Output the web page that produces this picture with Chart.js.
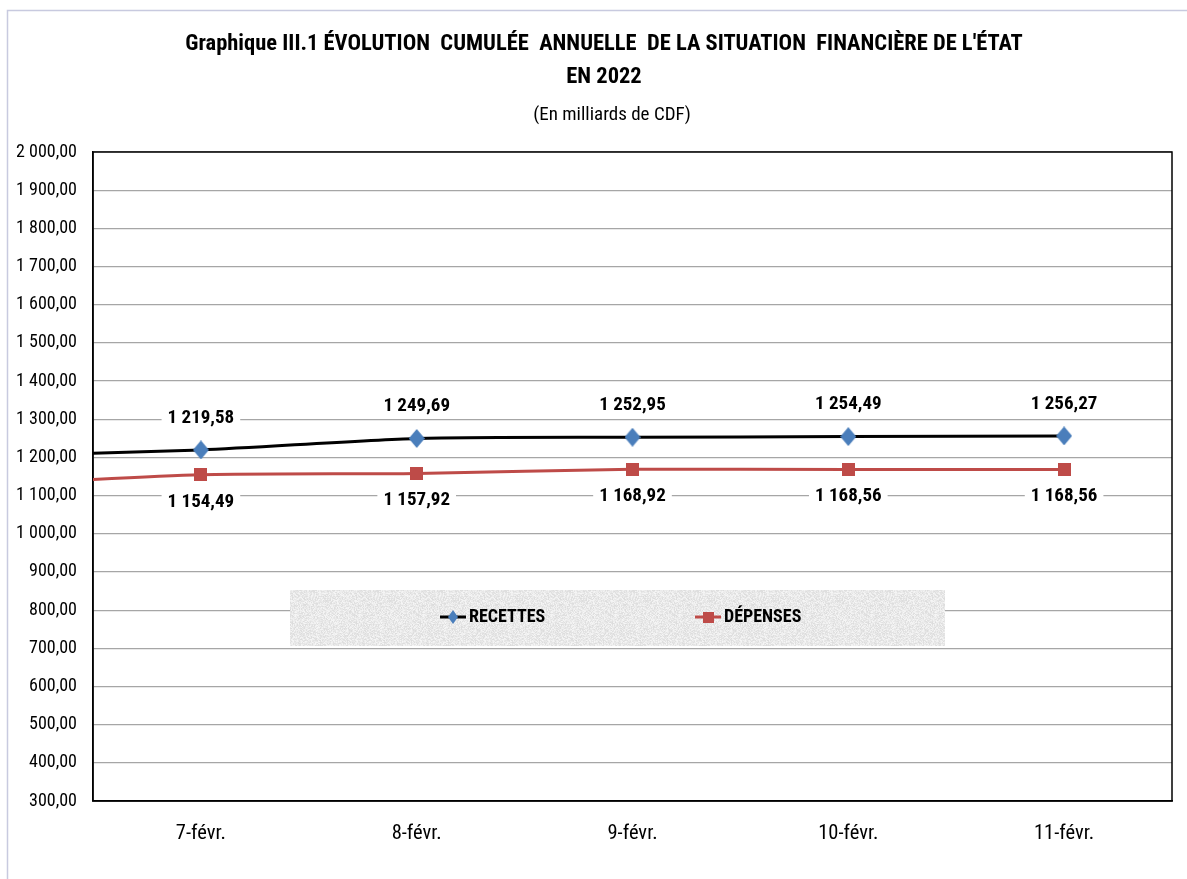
<!DOCTYPE html>
<html>
<head>
<meta charset="utf-8">
<script src="https://cdn.jsdelivr.net/npm/chart.js@4/dist/chart.umd.min.js"></script>
<style>
  html, body { margin: 0; padding: 0; background: #ffffff; }
  #wrap { width: 1187px; height: 879px; position: relative; }
  canvas { display: block; }
</style>
</head>
<body>
<div id="wrap"><canvas id="c" width="1187" height="879"></canvas></div>
<script>
// ---- Data ----
// The first category lies just outside the plot (only its connecting line segment is visible at the left edge).
const categories = ['6-févr.', '7-févr.', '8-févr.', '9-févr.', '10-févr.', '11-févr.'];
const recettes   = [1203.6, 1219.58, 1249.69, 1252.95, 1254.49, 1256.27];
const depenses   = [1127.1, 1154.49, 1157.92, 1168.92, 1168.56, 1168.56];
const seriesNames = ['RECETTES', 'DÉPENSES'];
const yTicksMin = 300, yTicksMax = 2000, yStep = 100;
const titleLines = ["Graphique III.1 ÉVOLUTION  CUMULÉE  ANNUELLE  DE LA SITUATION  FINANCIÈRE DE L'ÉTAT", 'EN 2022'];
const subtitleText = '(En milliards de CDF)';
const firstVisible = 1;

const FONT = "'Liberation Sans Narrow', 'Arial Narrow', 'Roboto Condensed', 'Liberation Sans', sans-serif";

function fmt(v) {
  const s = v.toFixed(2);
  const parts = s.split('.');
  const i = parts[0].replace(/\B(?=(\d{3})+(?!\d))/g, ' ');
  return i + ',' + parts[1];
}

// marker images
function makeDiamond(w, h, color) {
  const c = document.createElement('canvas');
  c.width = w; c.height = h;
  const g = c.getContext('2d');
  g.fillStyle = color;
  g.beginPath();
  g.moveTo(w / 2, 0); g.lineTo(w, h / 2); g.lineTo(w / 2, h); g.lineTo(0, h / 2);
  g.closePath(); g.fill();
  return c;
}
function makeSquare(s, color) {
  const c = document.createElement('canvas');
  c.width = s; c.height = s;
  const g = c.getContext('2d');
  g.fillStyle = color;
  g.fillRect(0, 0, s, s);
  return c;
}
const diamond = makeDiamond(16, 19, '#4a7ebb');
const square = makeSquare(13, '#be4b48');
const legendDiamond = makeDiamond(10, 14, '#4a7ebb');
const legendSquare = makeSquare(11, '#be4b48');

// texture tile for the legend box (deterministic hash, decorative only)
function makeTexture() {
  const c = document.createElement('canvas');
  c.width = 64; c.height = 64;
  const g = c.getContext('2d');
  const img = g.createImageData(64, 64);
  for (let y = 0; y < 64; y++) {
    for (let x = 0; x < 64; x++) {
      const h = Math.sin(x * 12.9898 + y * 78.233) * 43758.5453;
      const f = h - Math.floor(h);
      const v = Math.round(220 + f * 26);
      const k = (y * 64 + x) * 4;
      img.data[k] = v; img.data[k + 1] = v; img.data[k + 2] = v; img.data[k + 3] = 255;
    }
  }
  g.putImageData(img, 0, 0);
  return c;
}
const texture = makeTexture();

const toPoints = arr => arr.map((v, i) => ({ x: i, y: v }));

const framePlugin = {
  id: 'frame',
  beforeDraw(chart) {
    const ctx = chart.ctx;
    ctx.save();
    ctx.fillStyle = '#ffffff';
    ctx.fillRect(0, 0, chart.width, chart.height);
    ctx.strokeStyle = '#c8cadf';
    ctx.lineWidth = 1.5;
    ctx.beginPath();
    ctx.moveTo(7.5, chart.height);
    ctx.lineTo(7.5, 10.5);
    ctx.lineTo(chart.width, 10.5);
    ctx.stroke();
    // titles
    ctx.fillStyle = '#000000';
    ctx.textAlign = 'center';
    ctx.textBaseline = 'middle';
    ctx.font = 'bold 22.5px ' + FONT;
    ctx.fillText(titleLines[0], 604, 44);
    ctx.fillText(titleLines[1], 604, 77);
    ctx.font = '19px ' + FONT;
    ctx.fillText(subtitleText, 612, 115);
    ctx.restore();
  },
  beforeDatasetsDraw(chart) {
    const a = chart.chartArea, ctx = chart.ctx;
    ctx.save();
    // legend box (sits under the lines' layer, over the grid)
    const bx = 290, by = 590, bw = 655, bh = 56;
    ctx.fillStyle = ctx.createPattern(texture, 'repeat');
    ctx.fillRect(bx, by, bw, bh);
    const items = [
      { x: 440, color: '#000000', img: legendDiamond, text: seriesNames[0] },
      { x: 695, color: '#be4b48', img: legendSquare, text: seriesNames[1] }
    ];
    const cy = 617;
    items.forEach(it => {
      ctx.strokeStyle = it.color;
      ctx.lineWidth = 3;
      ctx.beginPath();
      ctx.moveTo(it.x, cy); ctx.lineTo(it.x + 26, cy); ctx.stroke();
      ctx.drawImage(it.img, it.x + 13 - it.img.width / 2, cy - it.img.height / 2);
      ctx.fillStyle = '#000000';
      ctx.font = 'bold 18px ' + FONT;
      ctx.textAlign = 'left';
      ctx.textBaseline = 'middle';
      ctx.fillText(it.text, it.x + 29, cy);
    });
    // plot border
    ctx.strokeStyle = '#000000';
    ctx.lineWidth = 1.5;
    ctx.strokeRect(a.left, a.top, a.right - a.left, a.bottom - a.top);
    ctx.restore();
  },
  afterDatasetsDraw(chart) {
    const ctx = chart.ctx;
    ctx.save();
    ctx.font = 'bold 19px ' + FONT;
    ctx.textAlign = 'center';
    ctx.textBaseline = 'middle';
    const offsets = [-32, 27];
    chart.data.datasets.forEach((ds, di) => {
      const meta = chart.getDatasetMeta(di);
      meta.data.forEach((pt, i) => {
        if (i < firstVisible) return;
        const txt = fmt(ds.data[i].y);
        const y = pt.y + offsets[di];
        const w = ctx.measureText(txt).width;
        ctx.fillStyle = '#ffffff';
        ctx.fillRect(pt.x - w / 2 - 6, y - 11, w + 12, 22);
        ctx.fillStyle = '#000000';
        ctx.fillText(txt, pt.x, y);
      });
    });
    ctx.restore();
  }
};

new Chart(document.getElementById('c'), {
  type: 'line',
  data: {
    datasets: [
      {
        label: seriesNames[0],
        data: toPoints(recettes),
        borderColor: '#000000',
        borderWidth: 3,
        tension: 0.25,
        pointStyle: diamond,
        pointRadius: ctx => ctx.dataIndex < firstVisible ? 0 : 8,
        clip: 0
      },
      {
        label: seriesNames[1],
        data: toPoints(depenses),
        borderColor: '#be4b48',
        borderWidth: 3,
        tension: 0.25,
        pointStyle: square,
        pointRadius: ctx => ctx.dataIndex < firstVisible ? 0 : 7,
        clip: 0
      }
    ]
  },
  options: {
    responsive: false,
    animation: false,
    layout: { padding: { left: 0, right: 15, top: 152, bottom: 0 } },
    plugins: {
      legend: { display: false },
      title: { display: false },
      tooltip: { enabled: false }
    },
    scales: {
      x: {
        type: 'linear',
        min: firstVisible - 0.5,
        max: categories.length - 0.5,
        afterBuildTicks(scale) {
          scale.ticks = categories.slice(firstVisible).map((c, i) => ({ value: i + firstVisible }));
        },
        afterFit(scale) { scale.height = 78; },
        grid: { display: false, drawTicks: false },
        border: { display: true, color: '#000000', width: 1.5 },
        ticks: {
          autoSkip: false,
          maxRotation: 0,
          padding: 21,
          color: '#000000',
          font: { family: FONT, size: 20.5 },
          callback: v => categories[v]
        }
      },
      y: {
        min: yTicksMin,
        max: yTicksMax,
        afterFit(scale) { scale.width = 93; },
        grid: { color: '#a6a6a6', lineWidth: 1.2, drawTicks: false },
        border: { display: true, color: '#000000', width: 1.5 },
        ticks: {
          stepSize: yStep,
          padding: 16,
          color: '#000000',
          font: { family: FONT, size: 18 },
          callback: v => fmt(v)
        }
      }
    }
  },
  plugins: [framePlugin]
});
</script>
</body>
</html>
